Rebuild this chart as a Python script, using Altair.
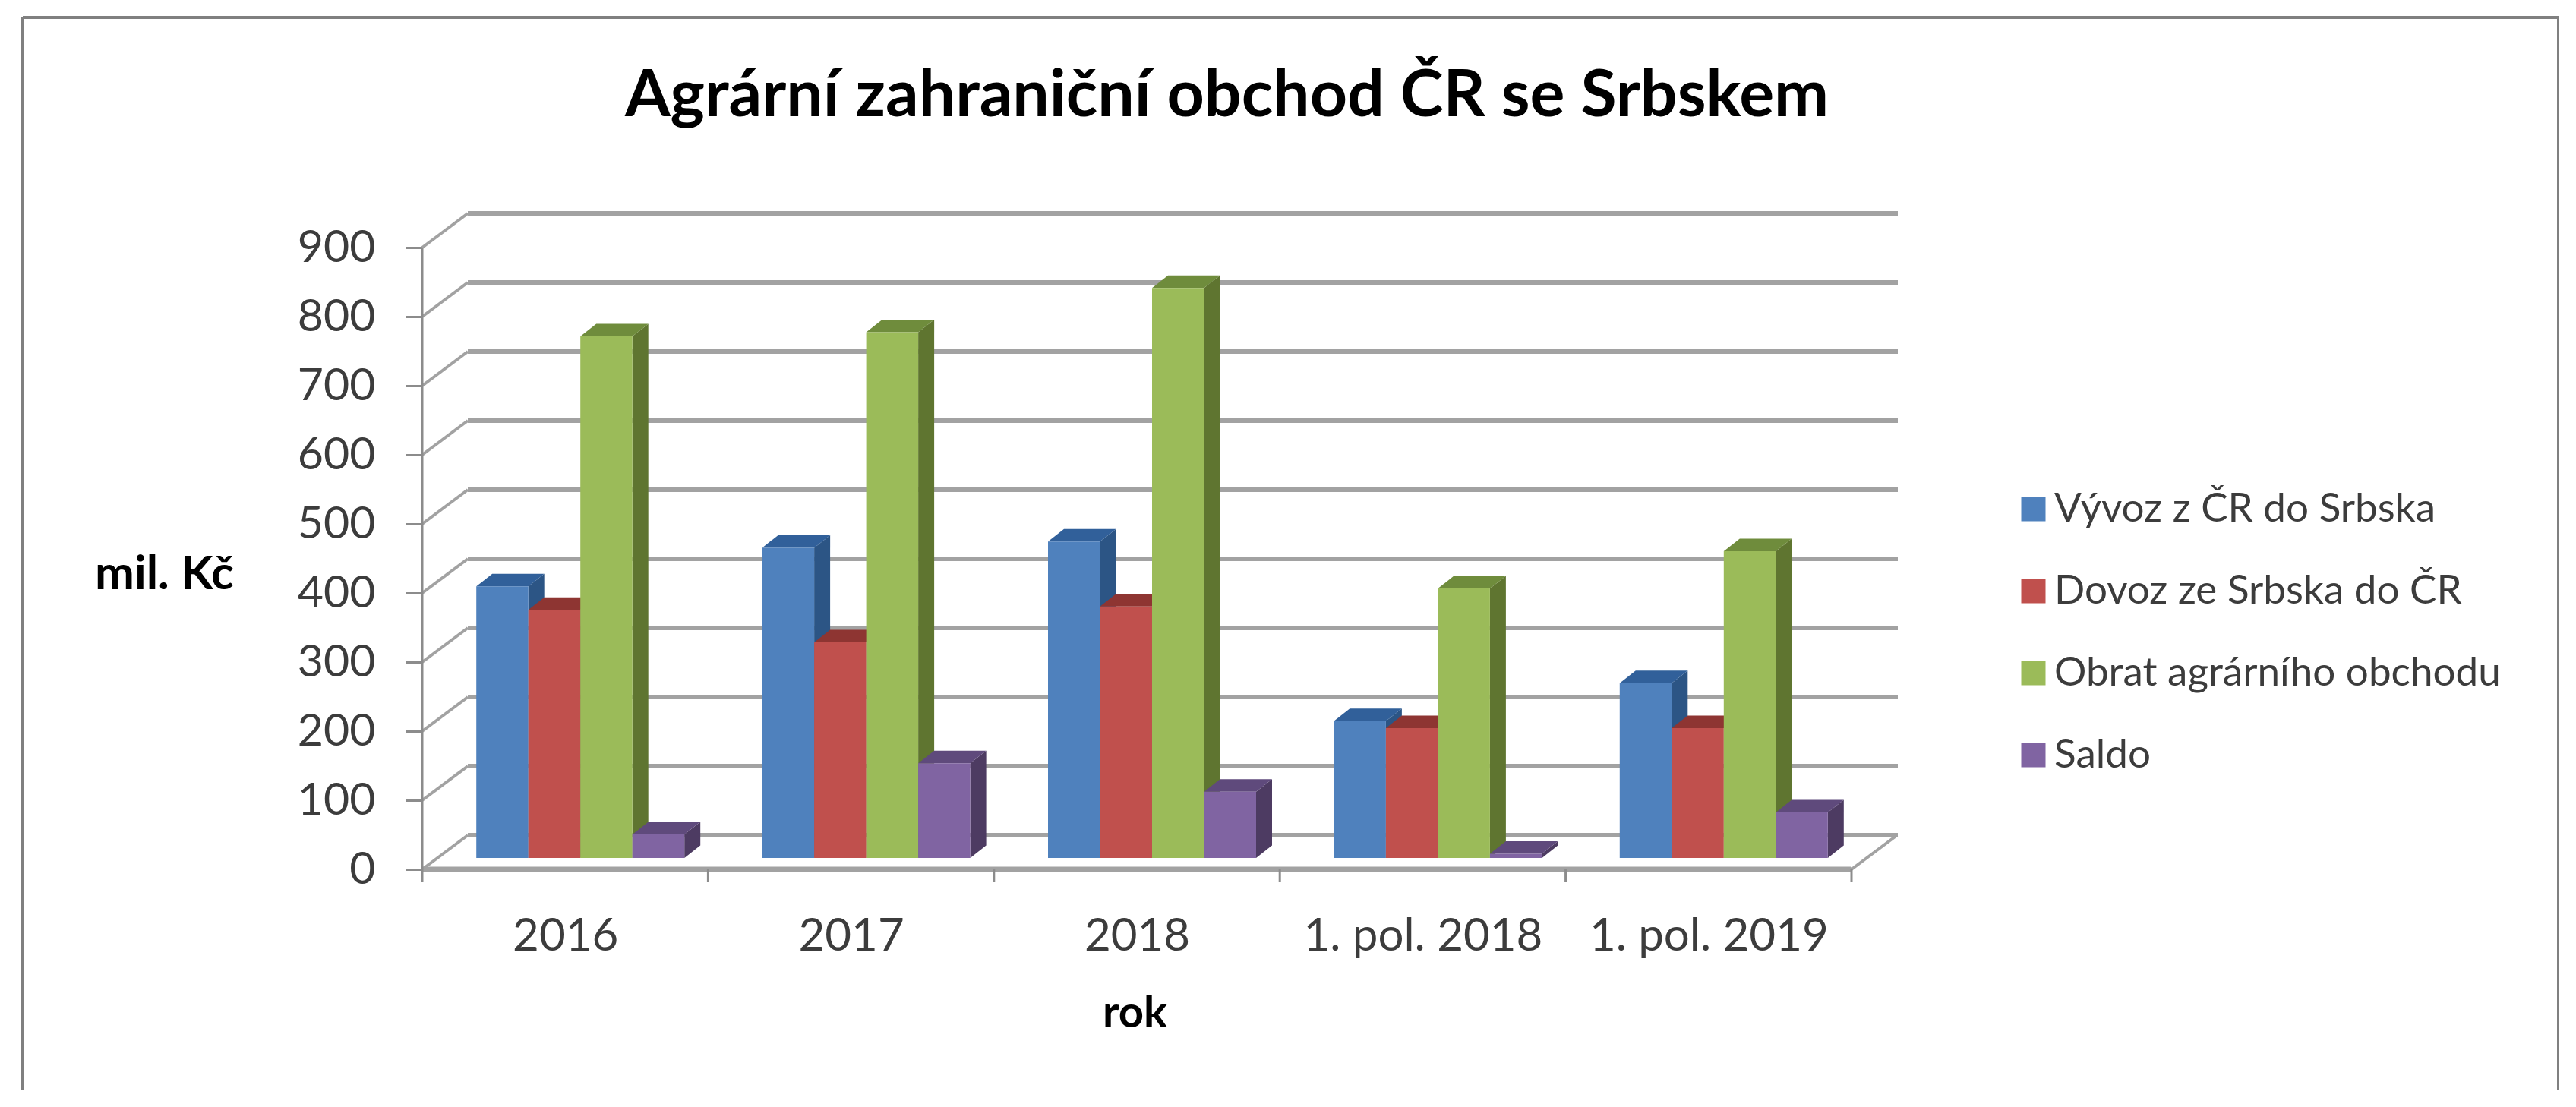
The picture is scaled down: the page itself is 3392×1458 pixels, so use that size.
import altair as alt
import pandas as pd

categories = ["2016", "2017", "2018", "1. pol. 2018", "1. pol. 2019"]
series = ["Vývoz z ČR do Srbska", "Dovoz ze Srbska do ČR", "Obrat agrárního obchodu", "Saldo"]
vyvoz = [393, 449, 458, 198, 253]
dovoz = [359, 312, 364, 188, 188]
obrat = [755, 761, 825, 390, 444]
saldo = [34, 137, 96, 6, 66]
y_ticks = [0, 100, 200, 300, 400, 500, 600, 700, 800, 900]
front_colors = ["#4F81BD", "#C0504D", "#9BBB59", "#8064A2"]
side_colors = ["#2C5585", "#7C2F2D", "#5F7530", "#4D3B62"]
top_colors = ["#31609A", "#8E3532", "#6F8C3C", "#5F4A7C"]

FONT = "Lato"
W, H = 1943, 865
PX_X = 376.4          # pixels per category
PX_Y = 0.91           # pixels per unit of value
X_MAX = W / PX_X
Y_MAX = H / PX_Y
WALL_DX, WALL_DY = 60 / PX_X, 45 / PX_Y
BASE_DX, BASE_DY = 20 / PX_X, 15 / PX_Y
BAR_DX, BAR_DY = 21 / PX_X, 16.5 / PX_Y
BAR_W = 68.5 / PX_X
GROUP_W = 4 * BAR_W

xs = alt.Scale(domain=[0, X_MAX], nice=False, zero=False)
ys = alt.Scale(domain=[0, Y_MAX], nice=False, zero=False)

GRID = "#A2A2A2"
AXIS = "#8C8C8C"

centers = [i + 0.5 for i in range(len(categories))]
label_expr = "[" + ",".join(f"'{c}'" for c in categories) + "][floor(datum.value)]"

x_axis = alt.Axis(
    values=centers, labelExpr=label_expr, ticks=False, domain=False, grid=False,
    labelFont=FONT, labelFontSize=60, labelColor="#3C3C3C", labelBaseline="alphabetic",
    labelPadding=106, labelOverlap=False, labelBound=False, labelFlush=False, labelLimit=1000,
    title="rok", titleFont=FONT, titleFontSize=58, titleFontWeight="bold", titleColor="#000000",
    titleX=938, titleY=207, titleBaseline="alphabetic", titleAlign="center",
)
y_axis = alt.Axis(
    values=y_ticks, domain=False, grid=False, tickSize=22, tickWidth=3, tickColor=AXIS,
    labelFont=FONT, labelFontSize=59, labelColor="#3C3C3C", labelPadding=40, labelOverlap=False,
    labelBound=False, labelFlush=False, labelBaseline="middle",
    title="mil. Kč", titleFont=FONT, titleFontSize=62, titleFontWeight="bold", titleColor="#000000",
    titleAngle=0, titleX=-340, titleY=495, titleBaseline="alphabetic", titleAlign="center",
)


def X(f):
    return alt.X(f, type="quantitative", scale=xs, axis=x_axis)


def Y(f):
    return alt.Y(f, type="quantitative", scale=ys, axis=y_axis)


# walls and floor
back = pd.DataFrame({
    "x": [WALL_DX] * len(y_ticks),
    "x2": [X_MAX] * len(y_ticks),
    "y": [v + WALL_DY for v in y_ticks],
})
diag = pd.DataFrame({
    "x": [0.0] * len(y_ticks) + [5.0],
    "x2": [WALL_DX] * len(y_ticks) + [5.0 + WALL_DX],
    "y": [float(v) for v in y_ticks] + [0.0],
    "y2": [v + WALL_DY for v in y_ticks] + [WALL_DY],
})

grid_layer = alt.Chart(back).mark_rule(color=GRID, strokeWidth=6).encode(
    x=X("x"), x2="x2", y=Y("y"),
)
diag_layer = alt.Chart(diag).mark_rule(color=GRID, strokeWidth=4).encode(
    x=X("x"), x2="x2", y=Y("y"), y2="y2"
)
floor_df = pd.DataFrame({"x": [0.0], "x2": [5.0], "y": [0.0]})
floor_layer = alt.Chart(floor_df).mark_rule(color=GRID, strokeWidth=7).encode(
    x=X("x"), x2="x2", y=Y("y")
)
axis_df = pd.DataFrame({"x": [0.0], "y": [0.0], "y2": [float(y_ticks[-1])]})
axis_layer = alt.Chart(axis_df).mark_rule(color=AXIS, strokeWidth=3).encode(
    x=X("x"), y=Y("y"), y2="y2"
)
tick_df = pd.DataFrame({"x": [float(i) for i in range(len(categories) + 1)]})
tick_layer = alt.Chart(tick_df).mark_rule(color=AXIS, strokeWidth=3).encode(
    x=X("x"), y=alt.value(H), y2=alt.value(H + 17)
)

layers = [grid_layer, diag_layer, floor_layer, tick_layer, axis_layer]

# bars
all_values = [vyvoz, dovoz, obrat, saldo]
for s, (name, vals) in enumerate(zip(series, all_values)):
    front, side, top = [], [], []
    for c, v in enumerate(vals):
        x0 = c + (1 - GROUP_W) / 2 + BASE_DX + s * BAR_W
        x1 = x0 + BAR_W
        yb, yt = BASE_DY, BASE_DY + v
        front.append({"series": name, "x": x0, "x2": x1, "y": yt, "y2": yb})
        side.append({"bar": c, "x": x1, "y": yb, "y2": yt})
        side.append({"bar": c, "x": x1 + BAR_DX, "y": yb + BAR_DY, "y2": yt + BAR_DY})
        top.append({"bar": c, "x": x0, "x2": x1, "y": yt})
        top.append({"bar": c, "x": x0 + BAR_DX, "x2": x1 + BAR_DX, "y": yt + BAR_DY})
    layers.append(
        alt.Chart(pd.DataFrame(side)).mark_area(color=side_colors[s], orient="vertical").encode(
            x=X("x"), y=Y("y"), y2="y2", detail="bar:N"
        )
    )
    layers.append(
        alt.Chart(pd.DataFrame(top)).mark_area(color=top_colors[s], orient="horizontal").encode(
            x=X("x"), x2="x2", y=Y("y"), detail="bar:N"
        )
    )
    layers.append(
        alt.Chart(pd.DataFrame(front)).mark_rect().encode(
            x=X("x"), x2="x2", y=Y("y"), y2="y2",
            color=alt.Color(
                "series:N",
                scale=alt.Scale(domain=series, range=front_colors),
                legend=alt.Legend(
                    title=None, orient="none", legendX=2095, legendY=364,
                    symbolType="square", symbolSize=1024, symbolStrokeWidth=0,
                    labelFont=FONT, labelFontSize=53, labelColor="#3C3C3C",
                    labelLimit=800, rowPadding=54, labelOffset=1,
                ),
            ),
        )
    )

# outer frame of the picture
one = pd.DataFrame({"a": [0]})
FRAME = "#808080"
frame_left = alt.Chart(one).mark_rule(color=FRAME, strokeWidth=4).encode(
    x=alt.value(-526), y=alt.value(-257), y2=alt.value(1178)
)
frame_right = alt.Chart(one).mark_rule(color=FRAME, strokeWidth=4).encode(
    x=alt.value(2813), y=alt.value(-257), y2=alt.value(1178)
)
frame_top = alt.Chart(one).mark_rule(color=FRAME, strokeWidth=4).encode(
    x=alt.value(-526), x2=alt.value(2813), y=alt.value(-257)
)
layers += [frame_left, frame_right, frame_top]

chart = alt.layer(*layers).properties(
    width=W,
    height=H,
    title=alt.TitleParams(
        "Agrární zahraniční obchod ČR se Srbskem",
        font=FONT, fontSize=86, fontWeight="bold", color="#000000",
        anchor="middle", dx=88, offset=-218, baseline="alphabetic",
    ),
    padding={"left": 548, "top": 272, "right": 870, "bottom": 290},
    autosize=alt.AutoSizeParams(type="none"),
    background="#FFFFFF",
).configure_view(stroke=None)

chart.save("out.html", embed_options={"renderer": "svg", "actions": False})
